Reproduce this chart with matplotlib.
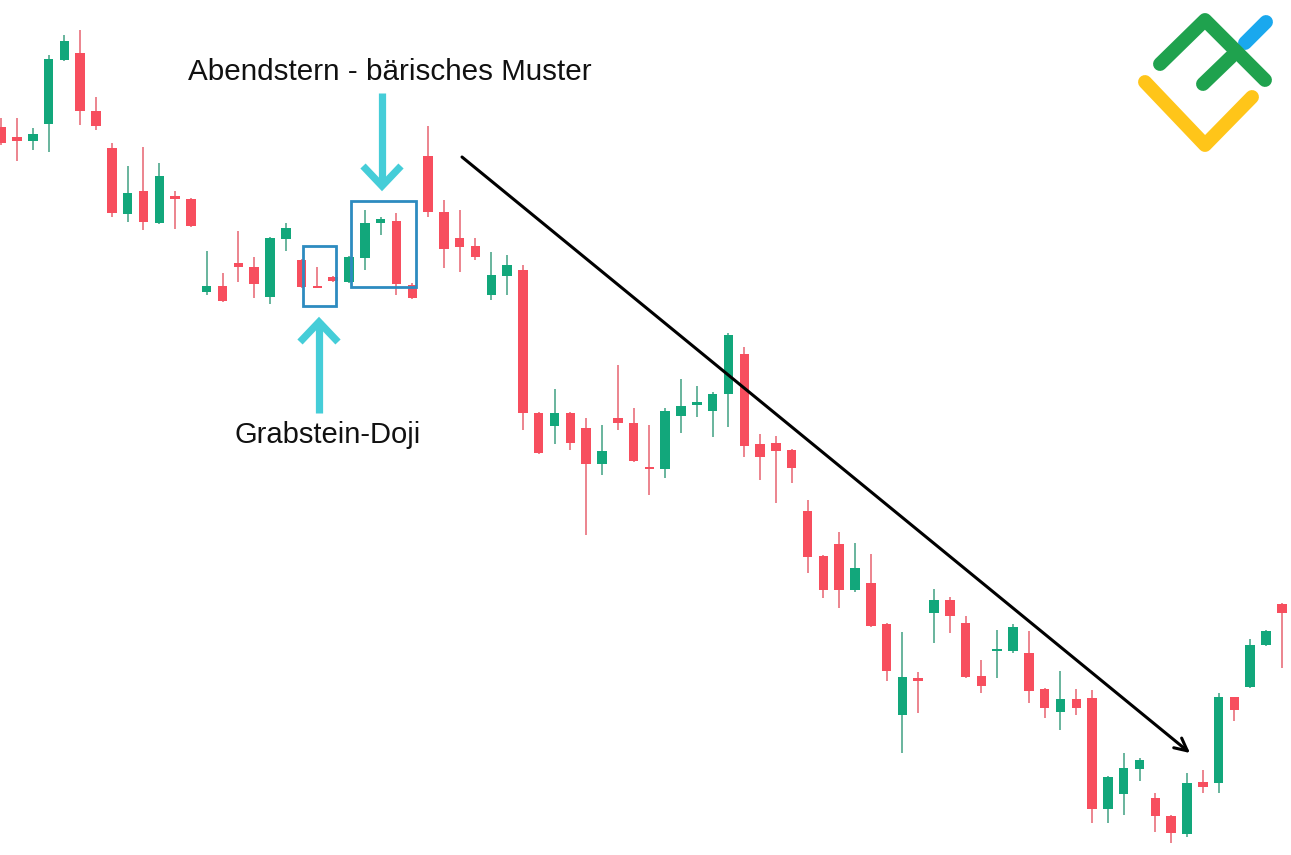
import matplotlib
matplotlib.use("Agg")
import matplotlib.pyplot as plt
import numpy as np

# ---- data (prices, arbitrary units) ----
opens = [728, 718, 714, 731, 795, 802, 744, 707, 641, 664, 632, 659, 656, 563, 569, 592,
         588, 558, 616, 595, 568, 578, 573, 597, 632, 634, 570, 699, 643, 617, 609, 560,
         579, 585, 442, 429, 442, 427, 391, 437, 432, 388, 386, 439, 450, 444, 461, 501,
         411, 412, 405, 344, 299, 311, 265, 272, 231, 140, 177, 242, 255, 232, 179, 204,
         204, 202, 166, 143, 156, 157, 46, 61, 86, 57, 39, 21, 73, 72, 158, 168, 210, 251]
highs = [737, 737, 727, 800, 820, 825, 758, 712, 689, 708, 692, 664, 657, 604, 582, 624,
         598, 618, 632, 596, 588, 579, 599, 645, 638, 642, 572, 729, 655, 645, 617, 603,
         600, 590, 443, 466, 443, 437, 430, 490, 447, 430, 447, 476, 469, 463, 522, 508,
         421, 419, 406, 355, 300, 323, 312, 301, 232, 223, 183, 266, 258, 239, 195, 225,
         231, 224, 167, 184, 166, 165, 79, 102, 97, 62, 40, 82, 85, 162, 158, 216, 225, 252]
lows = [710, 694, 705, 703, 794, 730, 725, 638, 633, 625, 631, 626, 628, 560, 553, 573,
        557, 551, 604, 567, 567, 573, 572, 585, 620, 560, 556, 638, 587, 583, 595, 555,
        560, 425, 401, 411, 405, 320, 380, 425, 393, 360, 377, 422, 438, 418, 428, 398,
        375, 352, 372, 282, 257, 247, 263, 228, 174, 102, 142, 212, 222, 177, 162, 177,
        202, 152, 137, 125, 140, 32, 32, 40, 74, 23, 12, 18, 62, 62, 134, 167, 209, 187]
closes = [712, 714, 721, 796, 814, 744, 729, 642, 662, 633, 679, 656, 629, 569, 554, 588,
          571, 617, 627, 568, 567, 574, 598, 632, 636, 571, 557, 643, 606, 608, 598, 580,
          590, 442, 402, 442, 412, 391, 404, 432, 394, 386, 444, 449, 453, 461, 520, 409,
          398, 404, 387, 298, 265, 265, 287, 229, 184, 178, 174, 255, 239, 178, 169, 205,
          228, 164, 147, 156, 147, 46, 78, 87, 95, 39, 22, 72, 68, 158, 145, 210, 224, 242]

title_top = "Abendstern - bärisches Muster"
title_bottom = "Grabstein-Doji"

UP = "#12A77B"
DOWN = "#F74E5E"
UP_WICK = "#4FA88C"
DOWN_WICK = "#E9707C"

W, H = 1291, 855
fig = plt.figure(figsize=(W / 100, H / 100), dpi=100)
fig.patch.set_facecolor("white")

ax = fig.add_axes([0, 0, 1, 1])
ax.axis("off")
n = len(opens)
x = np.arange(n)
o = np.array(opens, float); h = np.array(highs, float)
l = np.array(lows, float); c = np.array(closes, float)
up = c > o
bcol = np.where(up, UP, DOWN)
wcol = np.where(up, UP_WICK, DOWN_WICK)
ax.vlines(x, l, h, colors=wcol, linewidth=1.2, zorder=2)
bottom = np.minimum(o, c)
height = np.maximum(np.abs(c - o), 2.0)
ax.bar(x, height, bottom=bottom, width=0.6, color=bcol, linewidth=0, zorder=3)
ax.set_xlim(-0.075, 81.58)
ax.set_ylim(0, 855)

# ---- annotation layer in pixel coordinates ----
an = fig.add_axes([0, 0, 1, 1])
an.axis("off")
an.set_xlim(0, W)
an.set_ylim(H, 0)
an.patch.set_alpha(0)

BOX = "#2D8BC0"
for (x0, y0, x1, y1) in [(303, 246, 336, 306), (351, 201, 416, 287)]:
    an.add_patch(plt.Rectangle((x0, y0), x1 - x0, y1 - y0, fill=False,
                               edgecolor=BOX, linewidth=2.0, zorder=5))

CY = "#45CDD8"
# down arrow
an.plot([382, 382], [93, 184], color=CY, lw=5.2, solid_capstyle="butt", zorder=6)
an.plot([363, 382, 401], [166, 186, 166], color=CY, lw=5.2,
        solid_joinstyle="miter", solid_capstyle="butt", zorder=6)
# up arrow
an.plot([319, 319], [413, 321], color=CY, lw=5.2, solid_capstyle="butt", zorder=6)
an.plot([300, 319, 338], [342, 322, 342], color=CY, lw=5.2,
        solid_joinstyle="miter", solid_capstyle="butt", zorder=6)

# trend arrow
an.annotate("", xy=(1190, 753), xytext=(462, 157),
            arrowprops=dict(arrowstyle="->,head_length=0.9,head_width=0.45",
                            color="black", lw=2.2, shrinkA=0, shrinkB=0), zorder=6)

an.text(188, 72, title_top, fontsize=21.3, family="Liberation Sans",
        ha="left", va="center", color="#111111", zorder=7)
an.text(327.5, 435, title_bottom, fontsize=21, family="Liberation Sans",
        ha="center", va="center", color="#111111", zorder=7)

# logo
G = "#1FA24E"
an.plot([1245, 1266], [43, 22], color="#1AA8EE", lw=10, solid_capstyle="round", zorder=7)
an.plot([1160, 1205, 1265], [64, 20, 80], color=G, lw=10, solid_capstyle="round",
        solid_joinstyle="round", zorder=8)
an.plot([1203, 1231], [84, 57], color=G, lw=10, solid_capstyle="round", zorder=8)
an.plot([1145, 1205, 1252], [82, 145, 97], color="#FFC519", lw=10, solid_capstyle="round",
        solid_joinstyle="round", zorder=8)

fig.savefig("out.png", dpi=100, facecolor="white")
